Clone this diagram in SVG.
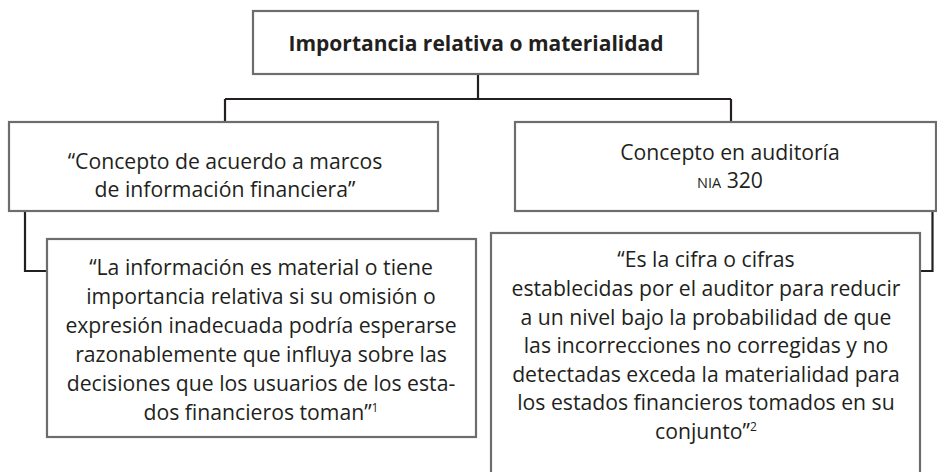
<svg xmlns="http://www.w3.org/2000/svg" width="937" height="472" viewBox="0 0 937 472">
<style>
.box{fill:#fff;stroke:#6d6d6d;stroke-width:2.2}
.con{fill:none;stroke:#231f20;stroke-width:2.2}
text{font-family:"Open Sans","Noto Sans",sans-serif;fill:#231f20;text-anchor:middle;font-size:21.2px}
.title{font-weight:bold;font-size:21px}
.sup{font-size:12px}
.sc{font-size:14.5px}
</style>
<rect width="937" height="472" fill="#fff"/>
<g id="connectors">
<path class="con" d="M478 74V99M225 99H731M225 99V122M731 99V122"/>
<path class="con" d="M25 211V271H47"/>
<path class="con" d="M932.5 211V271H920"/>
</g>
<g id="n-title">
<rect class="box" x="253" y="11" width="445" height="63"/>
<text class="title" x="476" y="51">Importancia relativa o materialidad</text>
</g>
<g id="n-marcos">
<rect class="box" x="9" y="122" width="429" height="89"/>
<text x="225" y="168.5">“Concepto de acuerdo a marcos</text>
<text x="225" y="197">de información financiera”</text>
</g>
<g id="n-auditoria">
<rect class="box" x="515" y="122" width="421" height="89"/>
<text x="730" y="160">Concepto en auditoría</text>
<text x="730" y="188"><tspan class="sc">NIA</tspan> 320</text>
</g>
<g id="n-def1">
<rect class="box" x="47" y="239" width="429" height="198"/>
<text x="261" y="275">“La información es material o tiene</text>
<text x="261" y="304">importancia relativa si su omisión o</text>
<text x="261" y="333">expresión inadecuada podría esperarse</text>
<text x="261" y="362">razonablemente que influya sobre las</text>
<text x="261" y="391">decisiones que los usuarios de los esta-</text>
<text x="261" y="420">dos financieros toman”<tspan class="sup" dy="-8">1</tspan></text>
</g>
<g id="n-def2">
<rect class="box" x="491" y="233" width="429" height="260"/>
<text x="706" y="267">“Es la cifra o cifras</text>
<text x="706" y="296">establecidas por el auditor para reducir</text>
<text x="706" y="325">a un nivel bajo la probabilidad de que</text>
<text x="706" y="353">las incorrecciones no corregidas y no</text>
<text x="706" y="382">detectadas exceda la materialidad para</text>
<text x="706" y="410">los estados financieros tomados en su</text>
<text x="706" y="439">conjunto”<tspan class="sup" dy="-8">2</tspan></text>
</g>
</svg>
